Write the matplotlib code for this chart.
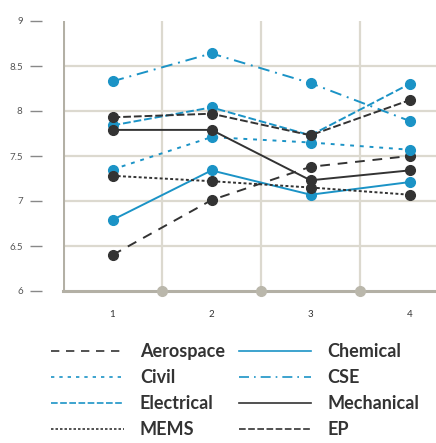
import matplotlib.pyplot as plt

# scores per semester
semesters = [1, 2, 3, 4]
aerospace = [6.40, 7.01, 7.38, 7.50]
chemical = [6.79, 7.34, 7.07, 7.21]
civil = [7.35, 7.71, 7.65, 7.57]
cse = [8.33, 8.64, 8.31, 7.89]
electrical = [7.84, 8.04, 7.73, 8.30]
mechanical = [7.79, 7.79, 7.23, 7.34]
mems = [7.28, 7.22, 7.15, 7.07]
ep = [7.93, 7.97, 7.73, 8.12]

yticks = [6, 6.5, 7, 7.5, 8, 8.5, 9]

blue = '#1b93c6'
black = '#333333'
grid_c = '#dcd9cf'
spine_c = '#b3b0a5'

plt.rcParams['font.family'] = ['Lato', 'DejaVu Sans']

fig = plt.figure(figsize=(4.36, 4.43), dpi=100)
ax = fig.add_axes([63 / 436, 1 - 291 / 443, 1 - 63 / 436, 270 / 443])

# background grid
for y in yticks[1:-1]:
    ax.axhline(y, color=grid_c, lw=1.6, zorder=0)
for x in [1.5, 2.5, 3.5]:
    ax.axvline(x, color=grid_c, lw=1.6, zorder=0)
ax.axvline(0.5, color=spine_c, lw=2.2, zorder=1)
ax.plot([1.5, 2.5, 3.5], [6, 6, 6], 'o', color='#bab7ab', ms=7,
        clip_on=False, zorder=3)

series = [
    ('Aerospace', aerospace, black, (0, (5, 4))),
    ('Chemical', chemical, blue, '-'),
    ('Civil', civil, blue, (0, (2, 3))),
    ('CSE', cse, blue, (0, (6, 3, 1, 3))),
    ('Electrical', electrical, blue, (0, (4, 1.5))),
    ('Mechanical', mechanical, black, '-'),
    ('MEMS', mems, black, (0, (1.5, 1.2))),
    ('EP', ep, black, (0, (4, 1.5))),
]
for name, vals, col, ls in series:
    ax.plot(semesters, vals, color=col, ls=ls, lw=1.4, marker='o', ms=7,
            label=name, zorder=4)

ax.set_xlim(0.5, 0.5 + 373 / 99)
ax.set_ylim(6, 9)
ax.set_xticks(semesters)
ax.set_yticks(yticks)
ax.set_yticklabels(['6', '6.5', '7', '7.5', '8', '8.5', '9'])

for s in ['top', 'right']:
    ax.spines[s].set_visible(False)
ax.spines['left'].set_position(('outward', 15))
ax.spines['left'].set_visible(False)
ax.spines['bottom'].set_color(spine_c)
ax.spines['bottom'].set_linewidth(2.2)

ax.tick_params(axis='y', length=9, width=1, color='#888888', pad=5,
               labelsize=7, labelcolor='#555555')
ax.tick_params(axis='x', length=0, pad=14, labelsize=7, labelcolor='#333333')

# legend reads row by row, matplotlib fills columns first
handles, labels = ax.get_legend_handles_labels()
order = [0, 2, 4, 6, 1, 3, 5, 7]
handles = [handles[i] for i in order]
labels = [labels[i] for i in order]
leg = fig.legend(handles, labels, ncol=2, loc='upper center',
                 bbox_to_anchor=(0.54, 1 - 327 / 443), frameon=False,
                 handlelength=4.0, columnspacing=0.8, handletextpad=0.9,
                 labelspacing=0.5, prop={'size': 13, 'weight': 'bold'})
for line in leg.get_lines():
    line.set_marker('')
    line.set_linewidth(1.2)
for t in leg.get_texts():
    t.set_color('#333333')

fig.savefig('out.png', dpi=100)
